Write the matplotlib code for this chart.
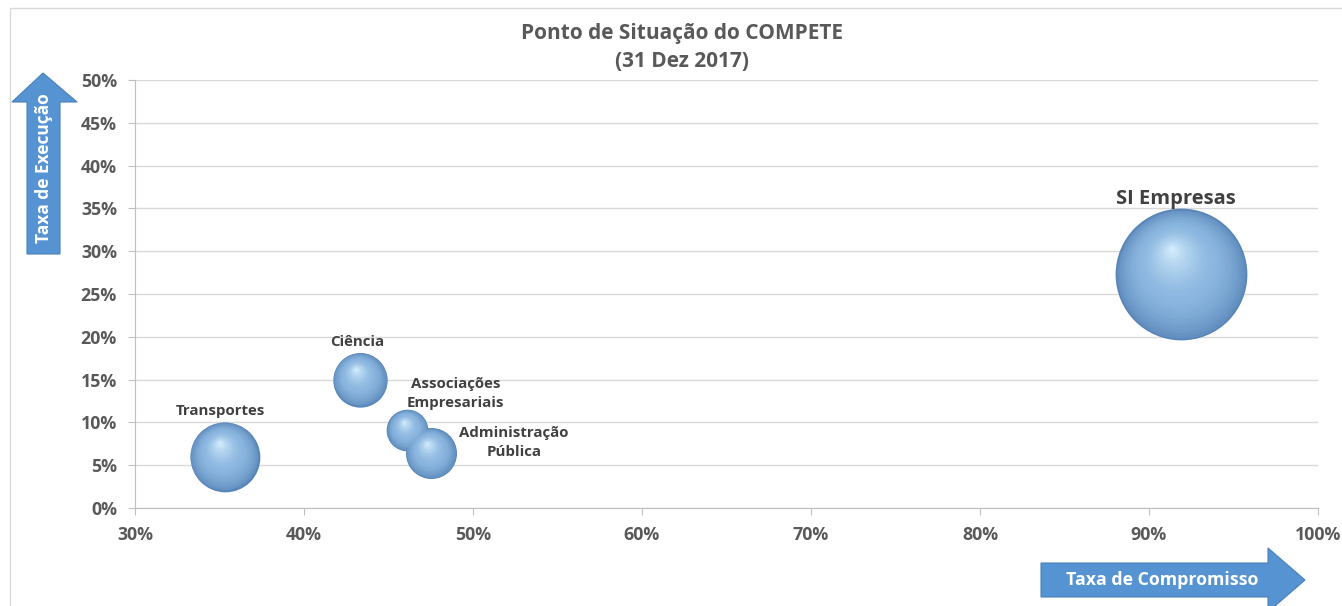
import numpy as np
import matplotlib
matplotlib.use('Agg')
import matplotlib.pyplot as plt
from matplotlib.patches import Polygon, Rectangle
from matplotlib.transforms import offset_copy
from matplotlib.colors import to_rgb

plt.rcParams['font.family'] = ['Open Sans', 'DejaVu Sans']

# data
programas = ['SI Empresas', 'Transportes', 'Ciência',
             'Associações\nEmpresariais', 'Administração\nPública']
taxa_compromisso = [91.9, 35.3, 43.3, 46.1, 47.5]   # %
taxa_execucao = [27.3, 6.0, 15.0, 9.1, 6.4]         # %
bolha = [100, 28, 17, 10, 15]                       # relative bubble area

x_ticks = [30, 40, 50, 60, 70, 80, 90, 100]
y_ticks = [0, 5, 10, 15, 20, 25, 30, 35, 40, 45, 50]

# label offsets (points) and font size
lab_off = [(-4, 54), (-3, 33), (-1.5, 27), (35, 26.5), (60, 8)]
lab_fs = [14.5, 10.8, 10.8, 10.8, 10.8]

grey = '#595959'

fig = plt.figure(figsize=(13.42, 6.06), dpi=100)
ax = fig.add_axes([0.1006, 0.1617, 0.8815, 0.7063])

ax.set_xlim(30, 100)
ax.set_ylim(0, 50)
ax.set_xticks(x_ticks)
ax.set_yticks(y_ticks)
ax.set_xticklabels([f'{t}%' for t in x_ticks])
ax.set_yticklabels([f'{t}%' for t in y_ticks])
ax.tick_params(axis='both', colors='#bfbfbf', labelcolor=grey, labelsize=12.8, length=5)
ax.tick_params(axis='x', pad=8)
ax.tick_params(axis='y', pad=8)
for lab in ax.get_xticklabels() + ax.get_yticklabels():
    lab.set_fontweight('bold')
ax.grid(axis='y', color='#d9d9d9', lw=1)
ax.set_axisbelow(True)
for s in ['top', 'right']:
    ax.spines[s].set_visible(False)
ax.spines['left'].set_color('#bfbfbf')
ax.spines['bottom'].set_color('#bfbfbf')

# spheres: stack of circles going from dark edge to light highlight
edge = np.array(to_rgb('#5885b8'))
mid = np.array(to_rgb('#8ab5df'))
hi = np.array(to_rgb('#d2ecfc'))
n = 40
smax = 9000
for xi, yi, b in zip(taxa_compromisso, taxa_execucao, bolha):
    s = smax * b / 100
    r = np.sqrt(s) / 2
    for k in range(n):
        f = 1 - k / n
        t = k / (n - 1)
        if t < 0.4:
            c = edge + (mid - edge) * (t / 0.4) ** 0.6
        else:
            c = mid + (hi - mid) * ((t - 0.4) / 0.6) ** 1.5
        dx = -0.15 * r * (1 - f)
        dy = 0.4 * r * (1 - f)
        tr = offset_copy(ax.transData, fig=fig, x=dx, y=dy, units='points')
        ax.scatter([xi], [yi], s=s * f ** 2, color=c, lw=0, transform=tr,
                   zorder=3 + k * 0.01, clip_on=False)

for name, xi, yi, off, fs in zip(programas, taxa_compromisso, taxa_execucao, lab_off, lab_fs):
    ax.annotate(name, (xi, yi), xytext=off, textcoords='offset points',
                ha='center', va='center', fontsize=fs, fontweight='bold',
                color='#404040', linespacing=1.45, zorder=10)

fig.text(0.508, 0.945, 'Ponto de Situação do COMPETE', ha='center', va='center',
         fontsize=15, fontweight='bold', color=grey)
fig.text(0.508, 0.899, '(31 Dez 2017)', ha='center', va='center',
         fontsize=15, fontweight='bold', color=grey)

# outer chart frame
W, H = 1342, 606
def px(x, y):
    return (x / W, 1 - y / H)

fig.add_artist(Rectangle(px(10, 700), (W + 20) / W, 692 / H, transform=fig.transFigure,
                         fill=False, ec='#d9d9d9', lw=1))

arrow_col = '#5593d2'
# vertical arrow
up = [px(27, 254), px(27, 102), px(12, 102), px(43, 73), px(77, 102), px(60, 102), px(60, 254)]
fig.add_artist(Polygon(up, closed=True, transform=fig.transFigure, fc=arrow_col,
                       ec='#4a80b8', lw=0.8))
fig.text(44 / W, 1 - 168 / H, 'Taxa de Execução', rotation=90, ha='center', va='center',
         fontsize=12.5, fontweight='bold', color='white')

# horizontal arrow
right = [px(1041, 563), px(1268, 563), px(1268, 548), px(1305, 580), px(1268, 612),
         px(1268, 597), px(1041, 597)]
fig.add_artist(Polygon(right, closed=True, transform=fig.transFigure, fc=arrow_col,
                       ec='#4a80b8', lw=0.8))
fig.text(1162 / W, 1 - 580 / H, 'Taxa de Compromisso', ha='center', va='center',
         fontsize=12.8, fontweight='bold', color='white')

fig.savefig('out.png', dpi=100)
